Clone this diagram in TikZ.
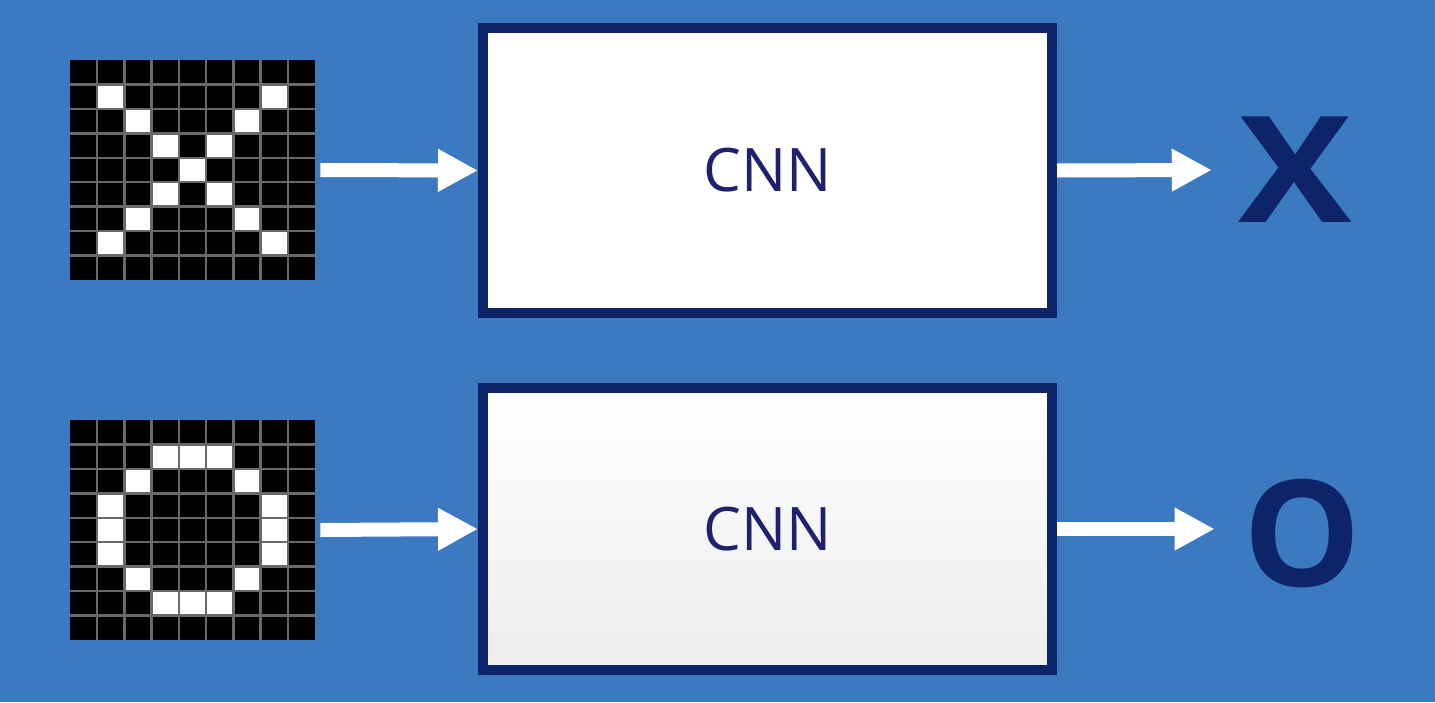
\documentclass[tikz,border=0pt]{standalone}
\usepackage{fontspec}
\setmainfont{Open Sans}
\usetikzlibrary{arrows.meta}
\definecolor{bg}{RGB}{59,121,192}
\definecolor{navy}{RGB}{14,36,104}
\definecolor{txt}{RGB}{32,32,110}
\definecolor{gridline}{RGB}{105,105,105}
\begin{document}
\begin{tikzpicture}[x=0.5pt,y=-0.5pt,
  cnnbox/.style={draw=navy,line width=5pt,fill=white,minimum width=284.5pt,minimum height=142.5pt,inner sep=0pt,font=\fontsize{30}{36}\selectfont,text=txt},
  pixgrid/.style={fill=black,minimum width=122.5pt,minimum height=110pt,inner sep=0pt},
  flow/.style={draw=white,line width=7pt,-{Triangle[length=20pt,width=20pt]}},
  outlabel/.style={font=\bfseries\fontsize{74}{78}\selectfont,text=navy,inner sep=0pt},
  cell/.style={fill=white},
  gline/.style={draw=gridline,line width=1.2pt}]
\fill[bg] (0,0) rectangle (1435,702);
\useasboundingbox (0,0) rectangle (1435,702);
% grids
\node[pixgrid] (gx) at (192.5,170) {};
\node[pixgrid] (go) at (192.5,530) {};
\foreach \c/\r in {1/1,7/1,2/2,6/2,3/3,5/3,4/4,3/5,5/5,2/6,6/6,1/7,7/7}
  \fill[cell] ({70+\c*245/9},{60+\r*220/9}) rectangle ++(245/9,220/9);
\foreach \c/\r in {3/1,4/1,5/1,2/2,6/2,1/3,7/3,1/4,7/4,1/5,7/5,2/6,6/6,3/7,4/7,5/7}
  \fill[cell] ({70+\c*245/9},{420+\r*220/9}) rectangle ++(245/9,220/9);
\foreach \y in {60,420}{
  \foreach \i in {1,...,8}{
    \draw[gline] ({70+\i*245/9},\y) -- ++(0,220);
    \draw[gline] (70,{\y+\i*220/9}) -- ++(245,0);
  }
}
% CNN boxes
\node[cnnbox] (cnn1) at (767.5,170.5) {CNN};
\node[cnnbox,top color=white,bottom color=black!7,minimum height=141pt] (cnn2) at (767.5,529) {CNN};
% outputs
\node[outlabel,xscale=1.15] (outx) at (1295,170) {X};
\node[outlabel] (outo) at (1302,534) {O};
% arrows
\draw[flow] ([xshift=2.5pt]gx.east) -- (cnn1.west);
\draw[flow] ([xshift=2.5pt]go.east) -- (cnn2.west);
\draw[flow] (cnn1.east) -- ([xshift=-13pt]outx.west);
\draw[flow] (cnn2.east) -- ([xshift=-14pt]outo.west |- cnn2.east);
\end{tikzpicture}
\end{document}
